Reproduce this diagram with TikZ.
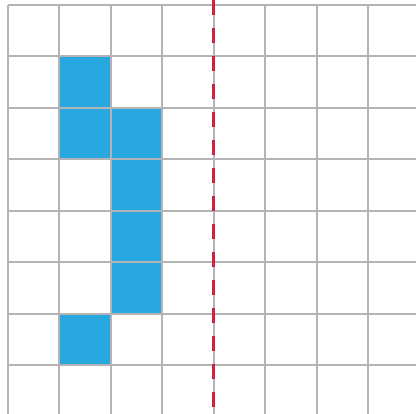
\documentclass[tikz,border=0pt]{standalone}
\usepackage{tikz}

\definecolor{cellblue}{RGB}{41,168,224}
\definecolor{gridgrey}{RGB}{180,180,182}
\definecolor{cutred}{RGB}{208,33,63}

\begin{document}
\begin{tikzpicture}[
 gridline/.style={draw=gridgrey,line width=1.1pt},
 cutline/.style={draw=cutred,line width=1.6pt,dash pattern=on 8.3pt off 7.2pt}]
\useasboundingbox (-0.156,0.097) rectangle (7.93,-7.95);
% filled cells (column/row, counted from the top left)
\foreach \c/\r in {1/1,1/2,2/2,2/3,2/4,2/5,1/6}
 \fill[cellblue] (\c,-\r) rectangle ++(1,-1);
% grid
\draw[gridline] (0,-7.95) grid[step=1] (7.95,0);
% cut line
\coordinate (cuttop) at (4,0.097);
\coordinate (cutbot) at (4,-7.95);
\draw[cutline] (cuttop) -- (cutbot);
\end{tikzpicture}
\end{document}
